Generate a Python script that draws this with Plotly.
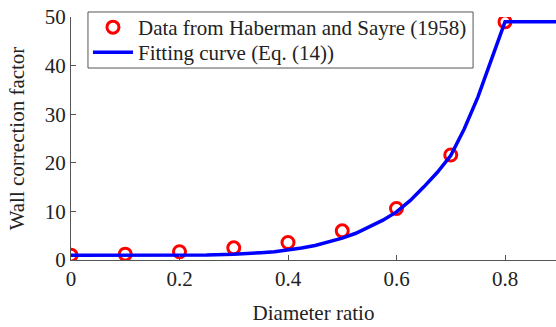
import plotly.graph_objects as go

# Measured data (Haberman and Sayre, 1958)
data_x = [0.0, 0.1, 0.2, 0.3, 0.4, 0.5, 0.6, 0.7, 0.8]
data_y = [1.0, 1.2, 1.7, 2.5, 3.6, 6.0, 10.6, 21.6, 49.0]

# Fitting curve (Eq. (14))
fit_x = [0.0, 0.1, 0.2, 0.25, 0.3, 0.325, 0.35, 0.375, 0.4, 0.425, 0.45, 0.475,
         0.5, 0.525, 0.55, 0.575, 0.6, 0.625, 0.65, 0.675, 0.7, 0.725, 0.75,
         0.775, 0.8, 0.9]
fit_y = [1.0, 1.0, 1.0, 1.05, 1.2, 1.3, 1.5, 1.7, 2.0, 2.45, 3.0, 3.7,
         4.5, 5.5, 6.8, 8.2, 9.9, 12.2, 15.0, 18.0, 21.5, 27.0, 33.5,
         41.0, 49.0, 49.0]

x_ticks = [0, 0.2, 0.4, 0.6, 0.8]
x_tick_labels = ["0", "0.2", "0.4", "0.6", "0.8"]
y_ticks = [0, 10, 20, 30, 40, 50]

FONT = "Liberation Serif"
FS = 21
FS_LEG = 21

fig = go.Figure()
fig.add_trace(go.Scatter(
    x=data_x, y=data_y, mode="markers",
    name="Data from Haberman and Sayre (1958)",
    marker=dict(symbol="circle-open", size=12, color="#ff0000",
                line=dict(width=3, color="#ff0000")),
    legend="legend",
))
fig.add_trace(go.Scatter(
    x=fit_x, y=fit_y, mode="lines",
    name="Fitting curve (Eq. (14))",
    line=dict(color="#0000ff", width=3.5),
    legend="legend2",
))

axis_common = dict(
    showline=True, linecolor="#555555", linewidth=1,
    ticks="inside", ticklen=5, tickcolor="#555555",
    showgrid=False, zeroline=False, automargin=False,
    tickfont=dict(family=FONT, size=FS, color="#222222"),
)

leg_common = dict(
    xanchor="left", yanchor="top",
    bgcolor="rgba(0,0,0,0)", borderwidth=0,
    font=dict(family=FONT, size=FS_LEG, color="#222222"),
    itemwidth=40,
)

fig.update_layout(
    width=556, height=327,
    margin=dict(l=71, r=0, t=17, b=67, autoexpand=False),
    paper_bgcolor="white", plot_bgcolor="white",
    font=dict(family=FONT, size=FS, color="#222222"),
    showlegend=True,
    legend=dict(x=0.035, y=1.0412, **leg_common),
    legend2=dict(x=0.035, y=0.9383, **leg_common),
    shapes=[dict(
        type="rect", xref="paper", yref="paper",
        x0=0.035, x1=0.829, y0=0.790, y1=1.0206,
        line=dict(color="#555555", width=1), fillcolor="white", layer="below",
    )],
    xaxis=dict(
        range=[0, 0.894], tickvals=x_ticks, ticktext=x_tick_labels,
        title=dict(text="Diameter ratio", font=dict(family=FONT, size=FS), standoff=15),
        **axis_common,
    ),
    yaxis=dict(
        range=[0, 50], tickvals=y_ticks,
        title=dict(text="Wall correction factor", font=dict(family=FONT, size=FS), standoff=14),
        **axis_common,
    ),
)

fig.write_html("out.html", config={"displayModeBar": False},
               post_script="document.body.style.margin='0';")
